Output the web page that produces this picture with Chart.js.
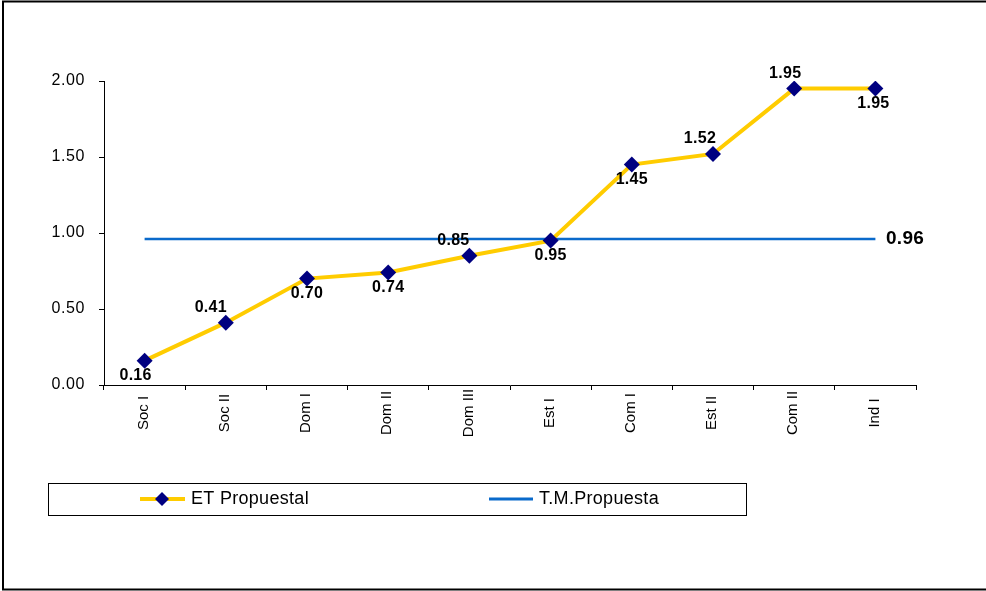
<!DOCTYPE html>
<html>
<head>
<meta charset="utf-8">
<script src="https://cdn.jsdelivr.net/npm/chart.js@4/dist/chart.umd.min.js"></script>
<style>
html,body{margin:0;padding:0;background:#fff;}
#wrap{width:986px;height:591px;position:relative;}
</style>
</head>
<body>
<div id="wrap"><canvas id="c" width="986" height="591"></canvas></div>
<script>
// ---- data ----
const categories = ["Soc I","Soc II","Dom I","Dom II","Dom III","Est I","Com I","Est II","Com II","Ind I"];
const etPropuestal = [0.16,0.41,0.70,0.74,0.85,0.95,1.45,1.52,1.95,1.95];
const tmPropuesta = 0.96;
const tmSeries = categories.map(() => tmPropuesta);
const yTicks = [0, 0.5, 1.0, 1.5, 2.0];
const seriesNames = ["ET Propuestal", "T.M.Propuesta"];

// label placement (styling only): 'a' = above, 'b' = below, with horizontal shift
const labelPlace = [["b",-9],["a",-15],["b",0],["b",0],["a",-16],["b",0],["b",0],["a",-13],["a",-9],["b",-2]];

const FONT = "'Liberation Sans', Arial, sans-serif";
const YELLOW = "#FFCC00";
const NAVY = "#000080";
const BLUE = "#0A6ACB";

const decor = {
  id: 'decor',
  beforeDraw(chart) {
    const ctx = chart.ctx;
    ctx.save();
    ctx.fillStyle = '#fff';
    ctx.fillRect(0,0,chart.width,chart.height);
    ctx.strokeStyle = '#000';
    ctx.lineWidth = 2;
    ctx.strokeRect(3, 1.5, 1000, 588);
    ctx.restore();
    ctx.letterSpacing = '0.6px';
  },
  afterDraw(chart) {
    const ctx = chart.ctx;
    ctx.save();
    // x category labels, rotated, centred on a common line
    const xs = chart.scales.x;
    ctx.font = "15px " + FONT;
    ctx.letterSpacing = '0px';
    ctx.fillStyle = '#000';
    ctx.textAlign = 'center';
    ctx.textBaseline = 'middle';
    categories.forEach((c, i) => {
      const x = xs.getPixelForTick(i);
      ctx.save();
      ctx.translate(x - 1, 413);
      ctx.rotate(-Math.PI / 2);
      ctx.fillText(c, 0, 0);
      ctx.restore();
    });

    // data labels
    const meta = chart.getDatasetMeta(0);
    ctx.font = "bold 16px " + FONT;
    ctx.letterSpacing = '0.3px';
    ctx.textAlign = 'center';
    meta.data.forEach((pt, i) => {
      const [pos, dx] = labelPlace[i];
      const txt = etPropuestal[i].toFixed(2);
      if (pos === 'a') {
        ctx.textBaseline = 'bottom';
        ctx.fillText(txt, pt.x + dx, pt.y - 7);
      } else {
        ctx.textBaseline = 'top';
        ctx.fillText(txt, pt.x + dx, pt.y + 7);
      }
    });
    // TM label at the right
    const ys = chart.scales.y;
    ctx.font = "bold 19px " + FONT;
    ctx.letterSpacing = '0.3px';
    ctx.textAlign = 'left';
    ctx.textBaseline = 'middle';
    ctx.fillText(tmPropuesta.toFixed(2), 886, ys.getPixelForValue(tmPropuesta));

    // legend
    ctx.strokeStyle = '#000';
    ctx.lineWidth = 1;
    ctx.strokeRect(48.5, 483.5, 698, 32);
    const ly = 499;
    ctx.lineWidth = 4;
    ctx.strokeStyle = YELLOW;
    ctx.beginPath(); ctx.moveTo(140, ly); ctx.lineTo(185, ly); ctx.stroke();
    ctx.fillStyle = NAVY;
    ctx.beginPath();
    ctx.moveTo(162, ly-7); ctx.lineTo(169, ly); ctx.lineTo(162, ly+7); ctx.lineTo(155, ly);
    ctx.closePath(); ctx.fill();
    ctx.lineWidth = 3;
    ctx.strokeStyle = BLUE;
    ctx.beginPath(); ctx.moveTo(489, ly); ctx.lineTo(533, ly); ctx.stroke();
    ctx.fillStyle = '#000';
    ctx.font = "18px " + FONT;
    ctx.letterSpacing = '0.3px';
    ctx.textAlign = 'left';
    ctx.textBaseline = 'middle';
    ctx.fillText(seriesNames[0], 191, ly);
    ctx.fillText(seriesNames[1], 539, ly);
    ctx.restore();
  }
};

new Chart(document.getElementById('c'), {
  type: 'line',
  data: {
    labels: categories,
    datasets: [
      {
        label: seriesNames[0],
        data: etPropuestal,
        borderColor: YELLOW,
        borderWidth: 4,
        pointStyle: 'rectRot',
        pointRadius: 8,
        pointHoverRadius: 8,
        pointBackgroundColor: NAVY,
        pointBorderColor: NAVY,
        pointBorderWidth: 0,
        tension: 0,
        fill: false
      },
      {
        label: seriesNames[1],
        data: tmSeries,
        borderColor: BLUE,
        borderWidth: 2.5,
        pointRadius: 0,
        pointHoverRadius: 0,
        tension: 0,
        fill: false
      }
    ]
  },
  options: {
    responsive: false,
    animation: false,
    devicePixelRatio: 1,
    layout: { padding: { left: 0, right: 70, top: 81, bottom: 0 } },
    plugins: {
      legend: { display: false },
      tooltip: { enabled: false },
      title: { display: false }
    },
    scales: {
      x: {
        type: 'category',
        offset: true,
        grid: { offset: true, drawOnChartArea: false, drawTicks: true, tickLength: 5, color: '#000', lineWidth: 1 },
        border: { display: true, color: '#000', width: 1 },
        ticks: { display: false, autoSkip: false },
        afterFit(scale) { scale.height = 206; }
      },
      y: {
        min: 0,
        max: 2,
        afterBuildTicks(scale) { scale.ticks = yTicks.map(v => ({ value: v })); },
        grid: { drawOnChartArea: false, drawTicks: true, tickLength: 5, color: '#000', lineWidth: 1 },
        border: { display: true, color: '#000', width: 1 },
        ticks: {
          color: '#000',
          font: { family: FONT, size: 16 },
          padding: 14,
          callback: (v) => Number(v).toFixed(2)
        },
        afterFit(scale) { scale.width = 104; }
      }
    }
  },
  plugins: [decor]
});
</script>
</body>
</html>
